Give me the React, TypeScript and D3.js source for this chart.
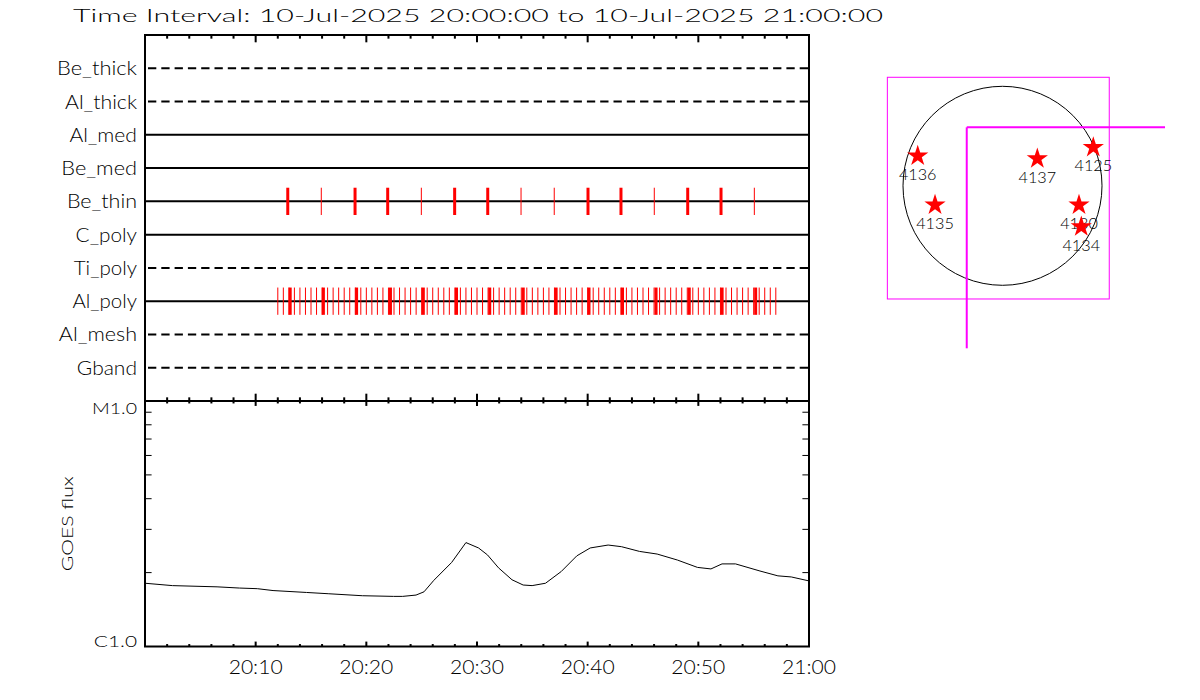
import React from "react";
import * as d3 from "d3";

// ---------- data ----------
const titleText = "Time Interval: 10-Jul-2025 20:00:00 to 10-Jul-2025 21:00:00";

const rowLabels = ["Be_thick", "Al_thick", "Al_med", "Be_med", "Be_thin", "C_poly", "Ti_poly", "Al_poly", "Al_mesh", "Gband"];
const rowDashed = [true, true, false, false, false, false, true, false, true, true];

// event times, minutes after 20:00
const beThinTimes = [12.9, 15.93, 18.98, 21.93, 24.97, 27.98, 30.97, 33.98, 36.98, 40.03, 43.01, 46.02, 49.04, 52.05, 55.06];
const beThinCounts = [2, 1, 2, 2, 1, 2, 2, 1, 1, 2, 2, 1, 2, 2, 1];

const alPolyTimes = [
  12, 12.5, 13, 13.5, 14, 14.5, 15, 15.5, 16, 16.5, 17, 17.5, 18, 18.5, 19, 19.5,
  20, 20.5, 21, 21.5, 22, 22.5, 23, 23.5, 24, 24.5, 25, 25.5, 26, 26.5, 27, 27.5,
  28, 28.5, 29, 29.5, 30, 30.5, 31, 31.5, 32, 32.5, 33, 33.5, 34, 34.5, 35, 35.5,
  36, 36.5, 37, 37.5, 38, 38.5, 39, 39.5, 40, 40.5, 41, 41.5, 42, 42.5, 43, 43.5,
  44, 44.5, 45, 45.5, 46, 46.5, 47, 47.5, 48, 48.5, 49, 49.5, 50, 50.5, 51, 51.5,
  52, 52.5, 53, 53.5, 54, 54.5, 55, 55.5, 56, 56.5, 57,
];
const alPolyDoubleTimes = [13.12, 16.12, 19.12, 22.18, 25.15, 28.15, 31.15, 34.18, 37.15, 40.12, 43.15, 46.18, 49.18, 52.15, 55.18];

const goesMinutes = [0, 2.48, 6.51, 8.54, 10.15, 11.57, 14.59, 16.61, 19.64, 22.46, 23.28, 24.49, 25.21, 26.1, 27.71, 29.0, 30.14, 30.95, 31.95, 33.16, 34.17, 34.98, 36.19, 37.61, 39.02, 40.23, 41.85, 43.06, 44.68, 46.28, 48.11, 49.92, 51.14, 52.14, 53.36, 55.57, 57.19, 58.4, 60];
const goesFlux = [1.81e-6, 1.77e-6, 1.75e-6, 1.73e-6, 1.72e-6, 1.69e-6, 1.66e-6, 1.64e-6, 1.61e-6, 1.6e-6, 1.6e-6, 1.62e-6, 1.67e-6, 1.86e-6, 2.2e-6, 2.65e-6, 2.52e-6, 2.36e-6, 2.09e-6, 1.87e-6, 1.78e-6, 1.77e-6, 1.81e-6, 2.02e-6, 2.34e-6, 2.52e-6, 2.59e-6, 2.55e-6, 2.44e-6, 2.38e-6, 2.25e-6, 2.1e-6, 2.07e-6, 2.17e-6, 2.17e-6, 2.03e-6, 1.94e-6, 1.92e-6, 1.85e-6];

const xTickMinutes = [10, 20, 30, 40, 50, 60];
const xTickLabels = ["20:10", "20:20", "20:30", "20:40", "20:50", "21:00"];
const yTickValues = [1e-6, 1e-5];
const yTickLabels = ["C1.0", "M1.0"];
const yTitle = "GOES flux";

const arNumbers = ["4136", "4137", "4125", "4135", "4130", "4134"];
const arX = [-818, 336, 876, -651, 738, 760]; // arcsec
const arY = [288, 261, 371, -185, -185, -395]; // arcsec

// ---------- layout ----------
const W = 1200;
const H = 700;
const L = 145;
const R = 809;
const T1 = 35;
const MID = 401;
const B2 = 646.5;

// Hershey-like advance widths for text stretching
const HW: Record<string, number> = {
  " ": 16, ":": 10, ".": 10, "-": 26, "_": 16,
  "0": 20, "1": 20, "2": 20, "3": 20, "4": 20, "5": 20, "6": 20, "7": 20, "8": 20, "9": 20,
  A: 18, B: 21, C: 21, D: 21, E: 19, G: 21, I: 8, J: 16, M: 24, O: 22, S: 20, T: 16,
  a: 19, b: 19, c: 18, d: 19, e: 18, f: 12, h: 19, i: 8, k: 17, l: 8, m: 30, n: 19,
  o: 19, p: 19, r: 13, s: 17, t: 12, u: 19, v: 16, x: 17, y: 16,
};
const hw = (s: string) => Array.from(s).reduce((a, c) => a + (HW[c] ?? 18), 0);

const FONT = "Lato, 'Liberation Sans', Arial, sans-serif";

export default function App() {
  const x = d3.scaleLinear().domain([0, 60]).range([L, R]);
  const yRow = d3.scalePoint<string>().domain(rowLabels).range([T1, MID]).padding(1);
  const yG = d3.scaleLog().domain([1e-6, 1e-5]).range([B2, MID]);

  const mapX = d3.scaleLinear().domain([-960, 960]).range([903, 1102]);
  const mapY = d3.scaleLinear().domain([-960, 960]).range([285.3, 86.3]);
  const star = d3.symbol().type(d3.symbolStar).size(140)();

  const minor = d3.range(0, 61, 2);
  const major = d3.range(0, 61, 10);
  const minorLog = d3.range(2, 10).map((k) => k * 1e-6);

  const goesLine = d3
    .line<number>()
    .x((_, i) => x(goesMinutes[i]))
    .y((d) => yG(d))(goesFlux) as string;

  const h1 = MID - T1;
  const h2 = B2 - MID;
  const tickSet = (y0: number, dir: number, hgt: number, key: string) => (
    <g key={key}>
      {minor.map((m) => {
        const len = (major.includes(m) ? 0.02 : 0.01) * hgt;
        return <line key={m} x1={x(m)} x2={x(m)} y1={y0} y2={y0 + dir * len} stroke="#000" strokeWidth={2} />;
      })}
    </g>
  );

  const tickHalf = yRow.step() * 0.41;
  const beY = yRow("Be_thin") as number;
  const alY = yRow("Al_poly") as number;

  return (
    <svg width={W} height={H} style={{ position: "absolute", left: 0, top: 0, background: "#fff" }} fontFamily={FONT} fontWeight={300}>
      <rect x={0} y={0} width={W} height={H} fill="#fff" />
      {/* title */}
      <text x={73} y={22} fontSize={17} textLength={810} lengthAdjust="spacingAndGlyphs" fill="#000">
        {titleText}
      </text>

      {/* row lines */}
      {rowLabels.map((lab, i) => {
        const y = yRow(lab) as number;
        return (
          <g key={lab}>
            <line x1={L} x2={R} y1={y} y2={y} stroke="#000" strokeWidth={2} strokeDasharray={rowDashed[i] ? "8.3 5" : undefined} strokeDashoffset={rowDashed[i] ? -3 : 0} />
            <text x={137} y={y + 7} fontSize={19} textAnchor="end" textLength={hw(lab) * 0.62} lengthAdjust="spacingAndGlyphs" fill="#000">
              {lab}
            </text>
          </g>
        );
      })}

      {/* Be_thin events */}
      {beThinTimes.map((t, i) => (
        <line key={"be" + i} x1={x(t)} x2={x(t)} y1={beY - tickHalf} y2={beY + tickHalf} stroke="#ff0000" strokeWidth={beThinCounts[i] === 2 ? 3 : 1} />
      ))}
      {/* Al_poly events */}
      {alPolyTimes.map((t, i) => (
        <line key={"al" + i} x1={x(t)} x2={x(t)} y1={alY - tickHalf} y2={alY + tickHalf} stroke="#ff0000" strokeWidth={1} />
      ))}
      {alPolyDoubleTimes.map((t, i) => (
        <line key={"ald" + i} x1={x(t)} x2={x(t)} y1={alY - tickHalf} y2={alY + tickHalf} stroke="#ff0000" strokeWidth={3} />
      ))}

      {/* GOES curve */}
      <path d={goesLine} fill="none" stroke="#000" strokeWidth={1} />

      {/* frames */}
      <rect x={L} y={T1} width={R - L} height={MID - T1} fill="none" stroke="#000" strokeWidth={2} />
      <rect x={L} y={MID} width={R - L} height={B2 - MID} fill="none" stroke="#000" strokeWidth={2} />
      {tickSet(T1, 1, h1, "t1")}
      {tickSet(MID, -1, h1, "b1")}
      {tickSet(MID, 1, h2, "t2")}
      {tickSet(B2, -1, h2, "b2")}

      {/* y log ticks */}
      {minorLog.map((v) => (
        <g key={"yl" + v}>
          <line x1={L} x2={L + 6.6} y1={yG(v)} y2={yG(v)} stroke="#000" strokeWidth={1} />
          <line x1={R} x2={R - 6.6} y1={yG(v)} y2={yG(v)} stroke="#000" strokeWidth={1} />
        </g>
      ))}
      {yTickValues.map((v, i) => {
        const yy = yG(v);
        const base = i === 1 ? yy + 13.3 : yy;
        return (
          <text key={"yt" + i} x={137} y={base} fontSize={16} textAnchor="end" textLength={hw(yTickLabels[i]) * 0.608} lengthAdjust="spacingAndGlyphs" fill="#000">
            {yTickLabels[i]}
          </text>
        );
      })}
      <text transform={`translate(72.7,${(MID + B2) / 2}) rotate(-90)`} fontSize={16} textAnchor="middle" textLength={hw(yTitle) * 0.617} lengthAdjust="spacingAndGlyphs" fill="#000">
        {yTitle}
      </text>

      {/* x labels */}
      {xTickMinutes.map((m, i) => (
        <text key={"xl" + i} x={x(m)} y={674} fontSize={19} textAnchor="middle" textLength={hw(xTickLabels[i]) * 0.6} lengthAdjust="spacingAndGlyphs" fill="#000">
          {xTickLabels[i]}
        </text>
      ))}

      {/* map */}
      <rect x={mapX(-1111)} y={mapY(1047)} width={mapX(1030) - mapX(-1111)} height={mapY(-1092) - mapY(1047)} fill="none" stroke="#ff00ff" strokeWidth={1} />
      <circle cx={mapX(0)} cy={mapY(0)} r={mapX(960) - mapX(0)} fill="none" stroke="#000" strokeWidth={1} />
      <line x1={mapX(-345)} x2={mapX(-345)} y1={mapY(564)} y2={mapY(-1568)} stroke="#ff00ff" strokeWidth={2} />
      <line x1={mapX(-345)} x2={mapX(1568)} y1={mapY(564)} y2={mapY(564)} stroke="#ff00ff" strokeWidth={2} />
      {arNumbers.map((n, i) => (
        <g key={n}>
          <path d={star} transform={`translate(${mapX(arX[i])},${mapY(arY[i])})`} fill="#ff0000" />
          <text x={mapX(arX[i])} y={mapY(arY[i]) + 24} fontSize={15} textAnchor="middle" textLength={hw(n) * 0.47} lengthAdjust="spacingAndGlyphs" fill="#000">
            {n}
          </text>
        </g>
      ))}
    </svg>
  );
}
